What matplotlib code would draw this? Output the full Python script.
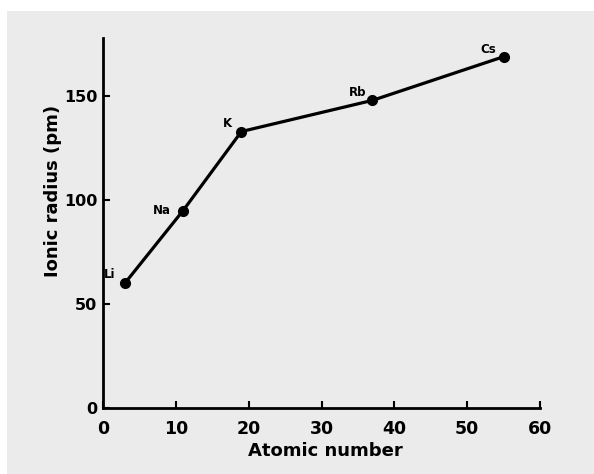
import matplotlib
matplotlib.use("Agg")
import matplotlib.pyplot as plt
from matplotlib.patches import Rectangle

# alkali metals: atomic number vs ionic radius
elements = ["Li", "Na", "K", "Rb", "Cs"]
atomic_number = [3, 11, 19, 37, 55]
ionic_radius = [60, 95, 133, 148, 169]
x_ticks = [0, 10, 20, 30, 40, 50, 60]
y_ticks = [0, 50, 100, 150]

# label offsets in points (dx, dy) relative to each point
offsets = [(-11, 6), (-15, 0), (-10, 6), (-11, 6), (-11, 5)]

plt.rcParams['font.family'] = ['DejaVu Sans']
fig = plt.figure(figsize=(5.94, 4.74), dpi=100, facecolor="white")
fig.patches.append(Rectangle((7 / 594, 0), 1, 1 - 11 / 474, transform=fig.transFigure,
                             facecolor="#ebebeb", edgecolor="none", zorder=-10))

ax = fig.add_axes([103 / 594, 1 - 408 / 474, (540 - 103) / 594, (408 - 38) / 474])
ax.patch.set_visible(False)

ax.plot(atomic_number, ionic_radius, color="black", lw=2.3, marker="o", ms=7,
        solid_joinstyle="round")
for name, x, y, (dx, dy) in zip(elements, atomic_number, ionic_radius, offsets):
    ax.annotate(name, (x, y), xytext=(dx, dy), textcoords="offset points",
                ha="center", va="center", fontsize=8.5, fontweight="bold")

ax.set_xlim(0, 60)
ax.set_ylim(0, 178)
ax.set_xticks(x_ticks)
ax.set_yticks(y_ticks)
ax.spines["top"].set_visible(False)
ax.spines["right"].set_visible(False)
for s in ["left", "bottom"]:
    ax.spines[s].set_linewidth(2)
ax.tick_params(direction="in", length=5, width=1.5)
ax.tick_params(axis="x", pad=9, labelsize=12.5)
ax.tick_params(axis="y", pad=4, labelsize=11.5)
for lab in ax.get_xticklabels() + ax.get_yticklabels():
    lab.set_fontweight("bold")

ax.set_xlabel("Atomic number", fontsize=13, fontweight="bold", va="center")
ax.set_ylabel("Ionic radius (pm)", fontsize=13, fontweight="bold")
ax.xaxis.set_label_coords(0.51, -0.116)
ax.yaxis.set_label_coords(-0.094, 0.586)

fig.savefig("out.png", dpi=100)
